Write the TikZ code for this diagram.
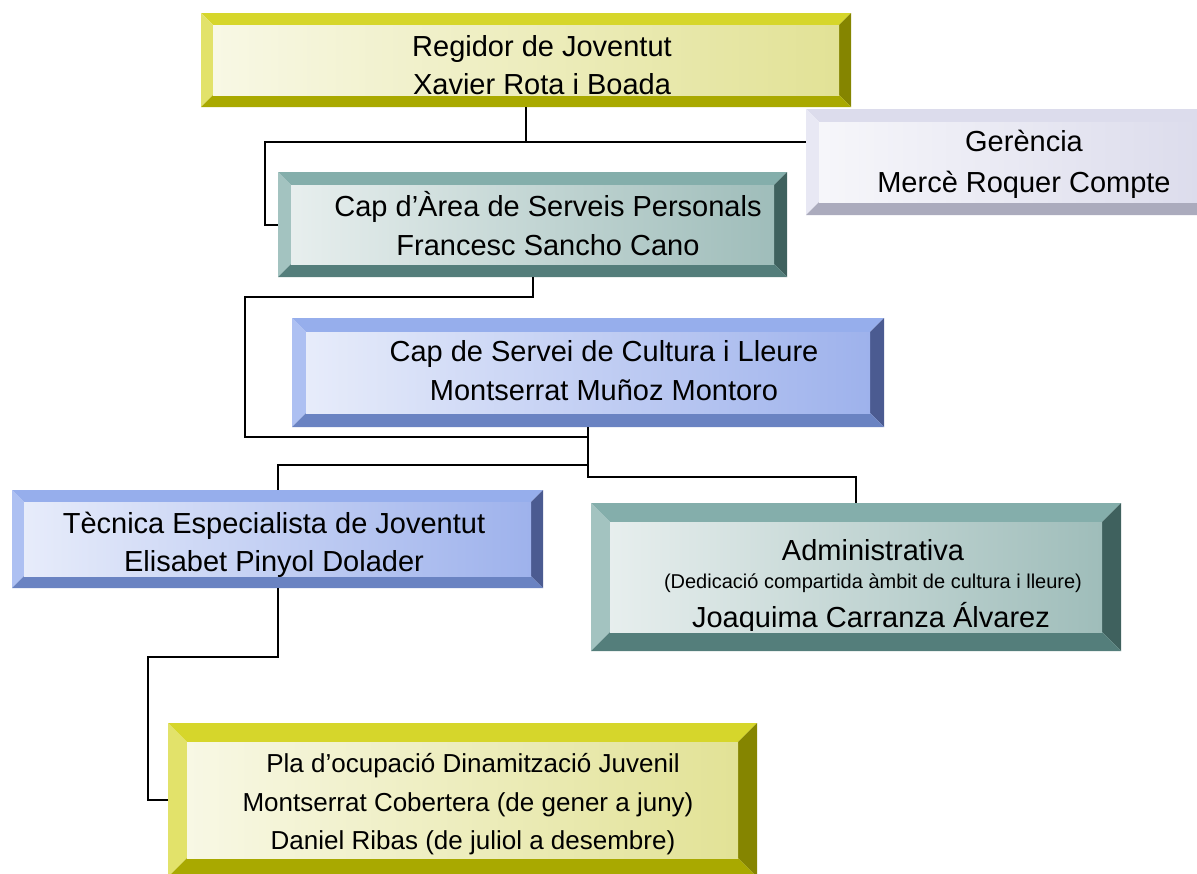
\documentclass[tikz,border=0pt]{standalone}
\usepackage{fontspec}
\setmainfont{Liberation Sans}
\usetikzlibrary{fit}
% yellow/olive
\definecolor{yelT}{HTML}{D6D62B}
\definecolor{yelL}{HTML}{E2E26A}
\definecolor{yelR}{HTML}{858500}
\definecolor{yelB}{HTML}{A9A900}
\definecolor{yelF}{HTML}{E2E296}
% teal
\definecolor{tealT}{HTML}{84AEAB}
\definecolor{tealL}{HTML}{A3C3C0}
\definecolor{tealR}{HTML}{3F615E}
\definecolor{tealB}{HTML}{547E7B}
\definecolor{tealF}{HTML}{9FBDBA}
% blue
\definecolor{bluT}{HTML}{96AEEC}
\definecolor{bluL}{HTML}{ADC0F2}
\definecolor{bluR}{HTML}{4B5B91}
\definecolor{bluB}{HTML}{6A83C2}
\definecolor{bluF}{HTML}{9EB2EC}
% lavender
\definecolor{lavT}{HTML}{DCDCEC}
\definecolor{lavL}{HTML}{E8E8F4}
\definecolor{lavR}{HTML}{8F8FA8}
\definecolor{lavB}{HTML}{ABABBD}
\definecolor{lavF}{HTML}{DCDCEC}

\newcommand\bevbox[7]{%
 \path (#2,#3) coordinate (#1-nw) (#4,#5) coordinate (#1-se);
 \node[inner sep=0pt, outer sep=0pt, fit=(#1-nw)(#1-se)] (#1) {};
 \fill[#7T] (#2,#3) -- (#4,#3) -- ({#4-#6},{#3+#6}) -- ({#2+#6},{#3+#6}) -- cycle;
 \fill[#7L] (#2,#3) -- ({#2+#6},{#3+#6}) -- ({#2+#6},{#5-#6}) -- (#2,#5) -- cycle;
 \fill[#7R] (#4,#3) -- (#4,#5) -- ({#4-#6},{#5-#6}) -- ({#4-#6},{#3+#6}) -- cycle;
 \fill[#7B] (#2,#5) -- ({#2+#6},{#5-#6}) -- ({#4-#6},{#5-#6}) -- (#4,#5) -- cycle;
 \shade[left color=#7F!25!white, middle color=white, right color=#7F] ({#2+#6},{#3+#6}) rectangle ({#4-#6},{#5-#6});
}

\tikzset{
 txt/.style={font=\fontsize{29}{35}\selectfont, anchor=base, inner sep=0pt},
 txtm/.style={font=\fontsize{26}{32}\selectfont, anchor=base, inner sep=0pt},
 txts/.style={font=\fontsize{20}{24}\selectfont, anchor=base, inner sep=0pt},
 conn/.style={draw=black, line width=2pt},
}

\begin{document}
\begin{tikzpicture}[x=1pt, y=-1pt]
\path[use as bounding box] (0,0) rectangle (1197,873);
\clip (0,0) rectangle (1197,873);

\bevbox{reg}{201}{13}{851}{107}{12}{yel}
\bevbox{ger}{806}{109}{1212}{215}{13}{lav}
\bevbox{cap}{278}{172}{787}{277}{13}{teal}
\bevbox{serv}{292}{318}{884}{427}{14}{blu}
\bevbox{tec}{12}{490}{543}{588}{12}{blu}
\bevbox{adm}{591}{503}{1121}{651}{19}{teal}
\bevbox{pla}{168}{723}{757}{877}{19}{yel}

% texts
\node[txt] (reg-t1) at (542,56) {Regidor de Joventut};
\node[txt] (reg-t2) at (542,94) {Xavier Rota i Boada};
\node[txt] (ger-t1) at (1024,151) {Gerència};
\node[txt] (ger-t2) at (1024,192) {Mercè Roquer Compte};
\node[txt] (cap-t1) at (548,216) {Cap d’Àrea de Serveis Personals};
\node[txt] (cap-t2) at (548,255) {Francesc Sancho Cano};
\node[txt] (serv-t1) at (604,361) {Cap de Servei de Cultura i Lleure};
\node[txt] (serv-t2) at (604,400) {Montserrat Muñoz Montoro};
\node[txt] (tec-t1) at (274,533) {Tècnica Especialista de Joventut};
\node[txt] (tec-t2) at (274,571) {Elisabet Pinyol Dolader};
\begin{scope}
 \clip (610,522) rectangle (1102,630);
 \node[txt] (adm-t1) at (873,560) {Administrativa};
 \node[txts] (adm-t2) at (873,588) {(Dedicació compartida àmbit de cultura i lleure)};
 \node[txt] (adm-t3) at (871,627) {Joaquima Carranza Álvarez};
\end{scope}
\node[txtm] (pla-t1) at (473,772) {Pla d’ocupació Dinamització Juvenil};
\node[txtm] (pla-t2) at (468,811) {Montserrat Cobertera (de gener a juny)};
\node[txtm] (pla-t3) at (473,849) {Daniel Ribas (de juliol a desembre)};

% connectors
\coordinate (k1) at (265,142);
\coordinate (k2) at (245,297);
\coordinate (k3) at (245,437);
\coordinate (k4) at (148,657);
\draw[conn] (reg.south) -- (reg.south |- k1) coordinate (j1) -- (j1 -| ger.west);
\draw[conn] (j1) -- (k1) |- (cap.west);
\draw[conn] (cap.south) |- (k2) -- (k3) -| (serv.south);
\draw[conn] (serv.south) -- ++(0,38) coordinate (j3) -- ++(0,12) coordinate (j4) -| (adm.north);
\draw[conn] (j3) -| (tec.north);
\draw[conn] (tec.south) |- (k4) |- (pla.west);
\end{tikzpicture}
\end{document}
